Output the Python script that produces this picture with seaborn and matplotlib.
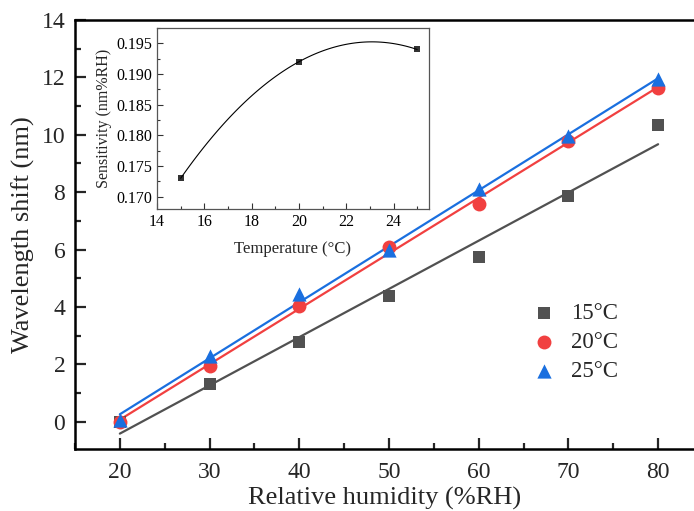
import numpy as np
import pandas as pd
import matplotlib
matplotlib.use("Agg")
import matplotlib.pyplot as plt
from matplotlib.ticker import MultipleLocator, FormatStrFormatter
import seaborn as sns

# Wavelength shift versus relative humidity at three temperatures
humidity = [20, 30, 40, 50, 60, 70, 80]
shift_15 = [0.0, 1.31, 2.78, 4.37, 5.75, 7.86, 10.33]
shift_20 = [0.0, 1.95, 4.03, 6.10, 7.59, 9.79, 11.62]
shift_25 = [0.07, 2.29, 4.45, 5.98, 8.10, 9.95, 11.96]
labels = ["15°C", "20°C", "25°C"]

# Sensitivity (slope of each fit) versus temperature
temperature = [15, 20, 25]
sensitivity = [0.173, 0.192, 0.194]

colors = {"15°C": "#515151", "20°C": "#F14040", "25°C": "#1A6FDF"}
markers = {"15°C": "s", "20°C": "o", "25°C": "^"}
msizes = {"15°C": 80, "20°C": 100, "25°C": 105}

df = pd.DataFrame({
    "rh": humidity * 3,
    "shift": shift_15 + shift_20 + shift_25,
    "temp": [labels[0]] * 7 + [labels[1]] * 7 + [labels[2]] * 7,
})
inset_df = pd.DataFrame({"T": temperature, "S": sensitivity})

sns.set_style("ticks")
plt.rcParams["font.family"] = ["Liberation Serif", "DejaVu Serif"]

fig = plt.figure(figsize=(6.94, 5.11), dpi=100)
W, H = 694, 511
ax = fig.add_axes([75 / W, 1 - 449 / H, (W - 75) / W, (449 - 20) / H])

for lab in labels:
    sub = df[df["temp"] == lab]
    sns.regplot(data=sub, x="rh", y="shift", ax=ax, scatter=False, ci=None,
                truncate=True, color=colors[lab], line_kws={"lw": 1.6, "zorder": 2})
for lab in labels:
    sub = df[df["temp"] == lab]
    sns.scatterplot(data=sub, x="rh", y="shift", ax=ax, marker=markers[lab],
                    s=msizes[lab], color=colors[lab], linewidth=0, label=lab,
                    zorder=3)

ax.set_xlim(15, 84)
ax.set_ylim(-0.95, 14)
ax.xaxis.set_major_locator(MultipleLocator(10))
ax.xaxis.set_minor_locator(MultipleLocator(5))
ax.yaxis.set_major_locator(MultipleLocator(2))
ax.yaxis.set_minor_locator(MultipleLocator(1))
ax.set_xticks(range(20, 81, 10))
ax.tick_params(which="both", direction="in", width=1.6, labelsize=17,
               top=False, right=False)
ax.tick_params(which="major", length=8)
ax.tick_params(which="minor", length=4.5)
ax.tick_params(axis="x", pad=9)
ax.tick_params(axis="y", pad=7)
for side in ["left", "bottom", "top"]:
    ax.spines[side].set_linewidth(1.8)
    ax.spines[side].set_color("black")
ax.spines["right"].set_visible(False)
ax.set_xlabel("Relative humidity (%RH)", fontsize=19, labelpad=3)
ax.set_ylabel("Wavelength shift (nm)", fontsize=19, labelpad=5)

ax.legend(loc="upper left", bbox_to_anchor=(533 / W, 1 - 303 / H),
          bbox_transform=fig.transFigure, frameon=False, fontsize=16.5,
          handlelength=1.0, handletextpad=0.66, labelspacing=0.35,
          borderpad=0, borderaxespad=0)

# Inset: sensitivity versus temperature
ins = fig.add_axes([157 / W, 1 - 209 / H, (429 - 157) / W, (209 - 28) / H])
sns.regplot(data=inset_df, x="T", y="S", ax=ins, order=2, ci=None, truncate=True,
            marker="s", color="black",
            scatter_kws={"s": 18, "linewidths": 0, "zorder": 3},
            line_kws={"lw": 0.8})
ins.set_xlim(14, 25.5)
ins.set_ylim(0.168, 0.1975)
ins.xaxis.set_major_locator(MultipleLocator(2))
ins.xaxis.set_minor_locator(MultipleLocator(1))
ins.yaxis.set_major_locator(MultipleLocator(0.005))
ins.yaxis.set_minor_locator(MultipleLocator(0.0025))
ins.yaxis.set_major_formatter(FormatStrFormatter("%.3f"))
ins.tick_params(which="both", direction="in", width=0.8, labelsize=11.5,
                colors="#333333", labelcolor="black")
ins.tick_params(which="major", length=4)
ins.tick_params(which="minor", length=2.5)
for s in ins.spines.values():
    s.set_linewidth(0.9)
    s.set_color("#555555")
ins.set_xlabel("Temperature (°C)", fontsize=12, labelpad=8)
ins.set_ylabel("Sensitivity (nm%RH)", fontsize=11.5, labelpad=3)

fig.savefig("out.png", dpi=100)
